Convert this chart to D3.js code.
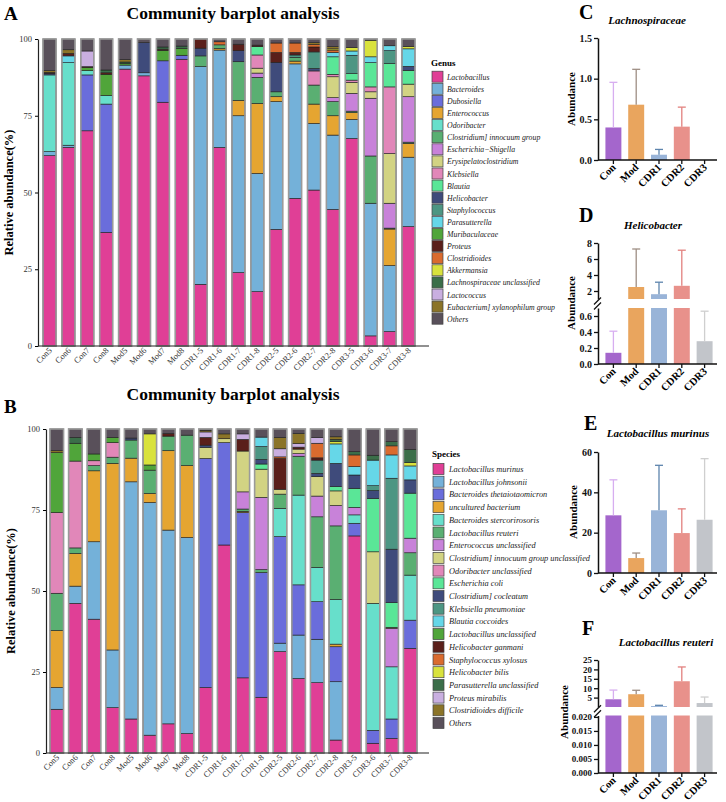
<!DOCTYPE html>
<html>
<head>
<meta charset="utf-8">
<script src="https://cdn.jsdelivr.net/npm/d3@7"></script>
<style>
  body { margin: 0; background: #fff; }
</style>
</head>
<body>
<div id="chart"></div>
<script>
const samples = ['Con5', 'Con6', 'Con7', 'Con8', 'Mod5', 'Mod6', 'Mod7', 'Mod8',
  'CDR1-5', 'CDR1-6', 'CDR1-7', 'CDR1-8', 'CDR2-5', 'CDR2-6', 'CDR2-7', 'CDR2-8',
  'CDR3-5', 'CDR3-6', 'CDR3-7', 'CDR3-8']

const genusNames = ['Lactobacillus', 'Bacteroides', 'Dubosiella', 'Enterococcus', 'Odoribacter',
  'Clostridium] innocuum group', 'Escherichia\u2212Shigella', 'Erysipelatoclostridium', 'Klebsiella',
  'Blautia', 'Helicobacter', 'Staphylococcus', 'Parasutterella', 'Muribaculaceae', 'Proteus',
  'Clostridioides', 'Akkermansia', 'Lachnospiraceae unclassified', 'Lactococcus',
  'Eubacterium] xylanophilum group', 'Others']

const speciesNames = ['Lactobacillus murinus', 'Lactobacillus johnsonii', 'Bacteroides thetaiotaomicron',
  'uncultured bacterium', 'Bacteroides stercorirosoris', 'Lactobacillus reuteri', 'Enterococcus unclassified',
  'Clostridium] innocuum group unclassified', 'Odoribacter unclassified', 'Escherichia coli',
  'Clostridium] cocleatum', 'Klebsiella pneumoniae', 'Blautia coccoides', 'Lactobacillus unclassified',
  'Helicobacter ganmani', 'Staphylococcus xylosus', 'Helicobacter bilis', 'Parasutterella unclassified',
  'Proteus mirabilis', 'Clostridioides difficile', 'Others']

const taxaColors = ['#e03f96', '#74b1d9', '#6a6ddb', '#e5a531', '#67dfcb', '#5aaf72', '#c882d9',
  '#d2d383', '#e187b9', '#5ae697', '#3f4b7b', '#4d9683', '#66d7e8', '#50a53a', '#5a1f1a',
  '#da6b2e', '#d9e23d', '#3b6e49', '#c9afe0', '#8b7428', '#59505a']

// one row per sample, one column per genus (legend order)
const genusValues = [
  [62, 1.3, 0, 0, 25, 0, 0, 0, 0, 0, 0.5, 0, 0, 0, 0.3, 0, 0, 0, 0, 0.6, 10.3],
  [64.7, 0.7, 0, 0, 26.9, 0, 0, 0, 0, 0, 0, 0, 2.2, 0, 0.8, 0, 0, 0, 0, 1.2, 3.5],
  [70.1, 0, 18.2, 0, 1.4, 0, 0, 0, 0, 0, 0, 0, 0, 1.0, 0.3, 0, 0, 0, 5.1, 0, 3.9],
  [37, 0, 41.8, 0, 2.8, 0, 0, 0, 0, 0, 0, 0, 0, 6.9, 0.5, 0, 0, 0.9, 0, 0, 10.1],
  [90.2, 1.3, 0, 0, 0, 0, 0, 0, 0, 0, 0, 0, 0, 0.6, 0, 0, 0, 0.4, 0, 0.8, 6.7],
  [88, 1, 0, 0, 0, 0, 0, 0, 0, 0, 9.8, 0, 0, 0, 0, 0, 0, 0, 0, 0, 1.2],
  [79.4, 0, 13.5, 0, 0, 0, 0, 0, 0, 0, 0, 0, 0, 3.4, 0.4, 0, 0, 0.7, 0, 0, 2.6],
  [93.4, 0, 1.3, 0, 0, 0, 0, 0, 0, 0, 0, 0, 0, 2.2, 0, 0, 0, 0.8, 0, 0, 2.3],
  [20.1, 70.9, 0, 0, 0, 3.5, 0, 0, 0, 0, 2.5, 0, 0, 0, 3.0, 0, 0, 0, 0, 0, 0],
  [64.7, 31.7, 0, 0.5, 0, 1.2, 0, 0, 0, 0, 0, 0, 0, 0, 0, 1.0, 0, 0, 0, 0, 0.9],
  [23.9, 51.1, 0, 5, 0, 12.6, 0, 0, 0, 0, 3.6, 0, 0, 0, 2.1, 0, 0, 0, 0, 0, 1.7],
  [17.7, 38.5, 0, 22.8, 0, 8.5, 1.4, 1.6, 4.3, 2.7, 0, 0, 0, 0, 0.5, 0, 0, 0, 0, 0, 2.0],
  [38, 41.6, 0, 1.6, 0, 1.6, 0, 0, 0, 0, 9.6, 0, 0, 0, 3.2, 3.1, 0, 0, 0, 0, 1.3],
  [48.1, 43.8, 0, 0.9, 0, 1.2, 0, 0, 0, 0, 0, 0.8, 0, 0, 0.8, 3.1, 0, 0, 0, 0, 1.3],
  [50.8, 21.7, 0, 6.3, 0, 6.2, 0, 0, 4.6, 0, 0.8, 5.4, 0, 0, 1.6, 0.8, 0, 0, 0, 0.6, 1.2],
  [44.5, 24.2, 0, 6.3, 0, 4.6, 1.3, 6.8, 0.8, 5.7, 0, 0, 1.4, 0, 0, 0.8, 0.4, 0, 0, 0.7, 2.5],
  [67.6, 6.2, 0, 2.2, 0, 0.5, 5.8, 3.6, 0.7, 2.1, 0, 6.0, 1.4, 0, 0, 0, 1.1, 0, 0, 0, 2.8],
  [3.3, 43.2, 0, 0, 0, 15.4, 18.8, 2.1, 1.6, 7.9, 0, 0, 1.9, 0, 0, 0, 5.4, 0, 0, 0, 0.4],
  [4.7, 21.5, 0, 11.9, 0, 0.3, 8.1, 16.2, 21.7, 7.6, 0, 4.2, 1.6, 0, 0, 0, 0, 0, 0, 0, 2.2],
  [38.9, 22.6, 0, 4.5, 0, 0.4, 14.8, 4.1, 0, 4.5, 1.3, 0, 5.7, 0, 0, 0, 0.7, 0, 0, 0, 2.5]
]

// one row per sample, one column per species (legend order)
const speciesValues = [
  [13.5, 6.7, 0, 17.6, 0, 11.5, 0, 0, 24.9, 0, 0, 0, 0, 18.5, 0, 0, 0, 0, 0, 0.6, 6.7],
  [46.2, 5.3, 0, 10.1, 0, 1.7, 0, 0, 26.8, 0, 0, 0, 0, 5.5, 0, 0, 0, 1.8, 0, 0, 2.6],
  [41.3, 23.9, 0, 21.9, 0, 1.6, 0, 0, 1.5, 0, 0, 0, 0, 2.1, 0, 0, 0, 0, 0, 0, 7.7],
  [14, 17.8, 0, 57.6, 0, 1.9, 0, 0, 4.5, 0, 0, 0, 0, 1.6, 0, 0, 0, 0, 0, 0, 2.6],
  [10.5, 73.2, 0, 7.3, 0, 5.6, 0, 0, 0, 0, 0.6, 0, 0, 0, 0, 0, 0, 0, 0, 0, 2.8],
  [5.5, 71.8, 0, 2.8, 0, 7.2, 0, 0, 0, 0, 0, 0, 0, 1.6, 0, 0, 9.6, 0, 0, 0, 1.5],
  [9, 59.8, 0, 24.5, 0, 4.5, 0, 0, 0, 0, 0, 0, 0, 0, 0.8, 0, 0, 0, 0, 0, 1.4],
  [6, 60.5, 0, 22.2, 0, 9.4, 0, 0, 0, 0, 0, 0, 0, 0, 0, 0, 0, 0, 0, 0, 1.9],
  [20.2, 0, 70.7, 0, 0, 0, 0, 3.4, 0, 0, 0.7, 0, 0, 0, 2.4, 0, 0, 0, 1.7, 0.5, 0.4],
  [64.2, 0, 31.6, 0, 0, 0, 0, 1.2, 0, 0, 0, 0, 0, 0, 0, 0, 0, 0, 0, 1.5, 1.5],
  [23.2, 0, 51, 0.4, 0, 0.7, 5.3, 12.6, 0, 0, 0, 0, 0, 0, 3.6, 0, 0, 0, 1.7, 0, 1.5],
  [17.2, 0, 38.5, 0, 0, 0.9, 22.3, 8.7, 0, 1.6, 1.4, 4.0, 2.9, 0, 0, 0, 0, 0, 0, 0, 2.5],
  [31.3, 2.6, 32.9, 0, 8.7, 4.4, 0, 1.5, 0, 0, 0, 0, 0, 0, 9.5, 0.5, 0, 0, 2.5, 3.5, 2.6],
  [23, 13.4, 15.5, 0, 27.7, 12, 0.8, 1.4, 0, 0, 0, 0, 0, 0, 0.6, 0, 0, 0, 1.1, 3.1, 1.4],
  [21.7, 13.4, 11.6, 0, 10.6, 15.6, 6.4, 6.0, 0, 0, 1.0, 4.1, 0, 0, 0.7, 4.5, 0, 0, 1.8, 0, 2.6],
  [4, 18, 10.8, 0.8, 13.8, 22.7, 6.3, 4.5, 0, 1.3, 7.2, 0, 6.0, 0, 0, 0, 0.7, 0.7, 0, 0.8, 2.4],
  [67.0, 0, 3.9, 0, 2.6, 0, 2.3, 0, 0, 5.9, 4.1, 0, 2.6, 0, 0, 3.6, 0, 1.0, 0, 0, 7.0],
  [3, 0, 4, 0, 39.2, 0, 0, 15.9, 0, 16.5, 2.4, 1.5, 7.9, 0, 0, 0, 0, 1.5, 0, 0, 8.1],
  [4.5, 0, 6, 0, 16.1, 0, 11.9, 0.3, 0, 7.6, 16.5, 21.9, 7.2, 0, 0, 2.8, 0, 1.3, 0, 0, 3.9],
  [32.3, 0, 8.7, 0, 13.9, 6.9, 4.5, 0, 0, 13.9, 4.1, 0, 4.3, 0, 0, 0, 1.0, 4.1, 0, 0, 6.3]
]

const groups = ['Con', 'Mod', 'CDR1', 'CDR2', 'CDR3']
const groupColors = ['#a466cc', '#e9a55e', '#99b4d8', '#e8918b', '#c2c5ca']
const errColors = ['#d7aef0', '#9e8e84', '#5d84ad', '#e2807e', '#cfcfcf']

const lachnoMean = [0.40, 0.68, 0.065, 0.41, 0]
const lachnoErr = [0.955, 1.115, 0.13, 0.65, 0]
const helicoMean = [0.14, 2.5, 1.6, 2.65, 0.285]
const helicoErr = [0.41, 7.25, 3.1, 7.1, 0.66]
const murinusMean = [28.6, 7.4, 31.1, 19.8, 26.4]
const murinusErr = [46.2, 9.9, 53.4, 31.8, 56.7]
const reuteriMean = [4.1, 6.8, 0.5, 13.7, 2.1]
const reuteriErr = [9.0, 8.9, 0.9, 21.3, 5.3]

const SERIF = '"Liberation Serif", "Times New Roman", serif'

const svg = d3.select('#chart')
  .append('svg')
  .attr('width', 726)
  .attr('height', 802)
  .attr('font-family', SERIF)

// ---------- stacked community barplots ----------
const drawStacked = (o) => {
  const g = svg.append('g')
  const x = d3.scaleBand().domain(samples).range(o.xr).paddingInner(o.pi).paddingOuter(o.po)
  const y = d3.scaleLinear().domain([0, 100]).range(o.yr)

  const rows = samples.map((s, i) => ({ sample: s, vals: o.values[i] }))
  const series = d3.stack()
    .keys(d3.range(o.names.length))
    .value((d, k) => d.vals[k])(rows)

  g.selectAll('g.layer')
    .data(series)
    .enter().append('g')
    .attr('fill', d => taxaColors[d.key])
    .selectAll('rect')
    .data(d => d.filter(p => p[1] - p[0] > 0))
    .enter().append('rect')
    .attr('x', p => x(p.data.sample))
    .attr('y', p => y(p[1]))
    .attr('width', x.bandwidth())
    .attr('height', p => y(p[0]) - y(p[1]))
    .attr('stroke', '#1e1e1e')
    .attr('stroke-width', 0.6)

  // grey frame round each bar
  g.selectAll('rect.frame')
    .data(samples)
    .enter().append('rect')
    .attr('class', 'frame')
    .attr('x', d => x(d))
    .attr('y', y(100))
    .attr('width', x.bandwidth())
    .attr('height', y(0) - y(100))
    .attr('fill', 'none')
    .attr('stroke', '#9a9a9a')
    .attr('stroke-width', 1.6)

  const yAxis = d3.axisLeft(y).tickValues([0, 25, 50, 75, 100]).tickSize(3).tickSizeOuter(0)
  g.append('g')
    .attr('transform', `translate(${o.axisX}, 0)`)
    .call(yAxis)
    .call(a => a.select('.domain').attr('stroke', '#222').attr('stroke-width', 1.2))
    .call(a => a.selectAll('text').attr('font-size', 8.5).attr('font-family', SERIF).attr('fill', '#333'))

  g.append('line')
    .attr('x1', o.axisX).attr('x2', o.lineEnd)
    .attr('y1', y(0)).attr('y2', y(0))
    .attr('stroke', '#222').attr('stroke-width', 1.2)

  g.selectAll('text.xlab')
    .data(samples)
    .enter().append('text')
    .attr('class', 'xlab')
    .attr('transform', d => `translate(${x(d) + x.bandwidth() / 2 + 3}, ${y(0) + 5}) rotate(-45)`)
    .attr('text-anchor', 'end')
    .attr('font-size', 8.5)
    .attr('fill', '#333')
    .text(d => d)

  svg.append('text')
    .attr('x', 233).attr('y', o.titleY)
    .attr('text-anchor', 'middle')
    .attr('font-size', 17.5).attr('font-weight', 'bold')
    .text('Community barplot analysis')

  svg.append('text')
    .attr('x', 4).attr('y', o.letterY)
    .attr('font-size', 19).attr('font-weight', 'bold')
    .text(o.letter)

  svg.append('text')
    .attr('transform', `translate(${o.ylabX}, ${(o.yr[0] + o.yr[1]) / 2}) rotate(-90)`)
    .attr('text-anchor', 'middle')
    .attr('font-size', 12.5).attr('font-weight', 'bold')
    .text('Relative abundance(%)')

  const legend = svg.append('g')
  legend.append('text')
    .attr('x', o.legX - 1).attr('y', o.legTitleY)
    .attr('font-size', 9).attr('font-weight', 'bold')
    .text(o.legTitle)
  const rowsG = legend.selectAll('g.item')
    .data(o.names)
    .enter().append('g')
    .attr('transform', (d, i) => `translate(${o.legX}, ${o.legY0 + i * o.legStep})`)
  rowsG.append('rect')
    .attr('x', 0).attr('y', -5.5)
    .attr('width', 11).attr('height', 11)
    .attr('fill', (d, i) => taxaColors[i])
    .attr('stroke', '#444').attr('stroke-width', 0.7)
  rowsG.append('text')
    .attr('x', o.legTextDx).attr('y', 3)
    .attr('font-size', o.legFont).attr('font-style', 'italic')
    .attr('fill', '#222')
    .text(d => d)
}

drawStacked({
  values: genusValues, names: genusNames,
  xr: [38.3, 419.7], pi: 0.31, po: 0.25, yr: [346, 39],
  axisX: 38, lineEnd: 429, titleY: 19, letter: 'A', letterY: 20, ylabX: 13,
  legTitle: 'Genus', legX: 432, legTitleY: 66, legY0: 76.7, legStep: 12.1, legTextDx: 15, legFont: 7.8
})

drawStacked({
  values: speciesValues, names: speciesNames,
  xr: [45.9, 421.1], pi: 0.27, po: 0.22, yr: [753, 429],
  axisX: 46, lineEnd: 429, titleY: 400, letter: 'B', letterY: 413, ylabX: 15,
  legTitle: 'Species', legX: 433, legTitleY: 457, legY0: 469, legStep: 12.7, legTextDx: 16, legFont: 8.3
})

// ---------- group bar panels (C-F) ----------
const drawGroupPanel = (o) => {
  const g = svg.append('g')
  const axisX = 598
  const x = d3.scaleBand().domain(groups).range([602, 716]).paddingInner(0.3).paddingOuter(0.15)
  const segs = o.segs.map(s => Object.assign({}, s, { y: d3.scaleLinear().domain(s.domain).range(s.range) }))
  const baseY = segs[0].range[0]
  const items = groups.map((k, i) => ({ k, i, mean: o.mean[i], err: o.err[i] }))

  segs.forEach(s => {
    g.append('g').selectAll('rect')
      .data(items.filter(d => d.mean > s.domain[0]))
      .enter().append('rect')
      .attr('x', d => x(d.k))
      .attr('width', x.bandwidth())
      .attr('y', d => s.y(Math.min(d.mean, s.domain[1])))
      .attr('height', d => s.y(s.domain[0]) - s.y(Math.min(d.mean, s.domain[1])))
      .attr('fill', d => groupColors[d.i])

    g.append('g')
      .attr('transform', `translate(${axisX}, 0)`)
      .call(d3.axisLeft(s.y).tickValues(s.ticks).tickFormat(d3.format(s.fmt))
        .tickSize(4).tickPadding(2).tickSizeOuter(0))
      .call(a => a.select('.domain').attr('stroke', '#111').attr('stroke-width', 1.5))
      .call(a => a.selectAll('line').attr('stroke', '#111').attr('stroke-width', 1.3))
      .call(a => a.selectAll('text').attr('font-size', o.tickFont || 10).attr('font-weight', 'bold')
        .attr('font-family', SERIF).attr('fill', '#111'))
  })

  // error bars (upper only)
  const segOf = d => segs.filter(s => d.mean > s.domain[0]).pop()
  const errItems = items.filter(d => d.err > d.mean && segOf(d))
  const eb = g.append('g').selectAll('g')
    .data(errItems)
    .enter().append('g')
    .attr('stroke', d => errColors[d.i])
    .attr('stroke-width', 1.3)
  eb.append('line')
    .attr('x1', d => x(d.k) + x.bandwidth() / 2).attr('x2', d => x(d.k) + x.bandwidth() / 2)
    .attr('y1', d => segOf(d).y(d.mean)).attr('y2', d => segOf(d).y(d.err))
  eb.append('line')
    .attr('x1', d => x(d.k) + x.bandwidth() / 2 - 4).attr('x2', d => x(d.k) + x.bandwidth() / 2 + 4)
    .attr('y1', d => segOf(d).y(d.err)).attr('y2', d => segOf(d).y(d.err))

  // break marks on the y axis
  if (segs.length > 1) {
    const mid = (segs[0].range[1] + segs[1].range[0]) / 2
    g.selectAll('line.brk')
      .data([-2.5, 2.5])
      .enter().append('line')
      .attr('x1', axisX - 4).attr('x2', axisX + 3)
      .attr('y1', d => mid + d + 3.5).attr('y2', d => mid + d - 3.5)
      .attr('stroke', '#111').attr('stroke-width', 1.3)
  }

  // x axis
  g.append('line')
    .attr('x1', axisX).attr('x2', 717)
    .attr('y1', baseY).attr('y2', baseY)
    .attr('stroke', '#111').attr('stroke-width', 1.5)
  g.selectAll('line.xt')
    .data(groups)
    .enter().append('line')
    .attr('x1', d => x(d) + x.bandwidth() / 2).attr('x2', d => x(d) + x.bandwidth() / 2)
    .attr('y1', baseY).attr('y2', baseY + 4)
    .attr('stroke', '#111').attr('stroke-width', 1.3)
  g.selectAll('text.xl')
    .data(groups)
    .enter().append('text')
    .attr('transform', d => `translate(${x(d) + x.bandwidth() / 2 + 3}, ${baseY + 8}) rotate(-45)`)
    .attr('text-anchor', 'end')
    .attr('font-size', 10.5).attr('font-weight', 'bold')
    .text(d => d)

  svg.append('text')
    .attr('x', o.letterX).attr('y', o.letterY)
    .attr('font-size', 20).attr('font-weight', 'bold')
    .text(o.letter)
  svg.append('text')
    .attr('x', o.titleX).attr('y', o.titleY)
    .attr('text-anchor', 'middle')
    .attr('font-size', 11).attr('font-weight', 'bold').attr('font-style', 'italic')
    .text(o.title)
  svg.append('text')
    .attr('transform', `translate(${o.ylabX}, ${o.ylabY}) rotate(-90)`)
    .attr('text-anchor', 'middle')
    .attr('font-size', 11).attr('font-weight', 'bold')
    .text('Abundance')
}

drawGroupPanel({
  letter: 'C', letterX: 579, letterY: 19, title: 'Lachnospiraceae', titleX: 647, titleY: 24,
  ylabX: 575, ylabY: 99, mean: lachnoMean, err: lachnoErr,
  segs: [{ domain: [0, 1.5], range: [160, 38], ticks: [0, 0.5, 1, 1.5], fmt: '.1f' }]
})

drawGroupPanel({
  letter: 'D', letterX: 579, letterY: 222, title: 'Helicobacter', titleX: 653, titleY: 229,
  ylabX: 575, ylabY: 303, mean: helicoMean, err: helicoErr,
  segs: [
    { domain: [0, 0.7], range: [364, 308], ticks: [0, 0.2, 0.4, 0.6], fmt: '.1f' },
    { domain: [1, 8], range: [299, 243], ticks: [2, 4, 6, 8], fmt: 'd' }
  ]
})

drawGroupPanel({
  letter: 'E', letterX: 584, letterY: 430, title: 'Lactobacillus murinus', titleX: 658, titleY: 437,
  ylabX: 577, ylabY: 512, mean: murinusMean, err: murinusErr,
  segs: [{ domain: [0, 60], range: [573, 452], ticks: [0, 20, 40, 60], fmt: 'd' }]
})

drawGroupPanel({
  letter: 'F', letterX: 582, letterY: 635, title: 'Lactobacillus reuteri', titleX: 666, titleY: 646,
  ylabX: 568, ylabY: 712, mean: reuteriMean, err: reuteriErr, tickFont: 9,
  segs: [
    { domain: [0, 0.0205], range: [773, 715.5], ticks: [0, 0.005, 0.01, 0.015, 0.02], fmt: '.3f' },
    { domain: [0, 25], range: [707, 660], ticks: [5, 10, 15, 20, 25], fmt: 'd' }
  ]
})
</script>
</body>
</html>
